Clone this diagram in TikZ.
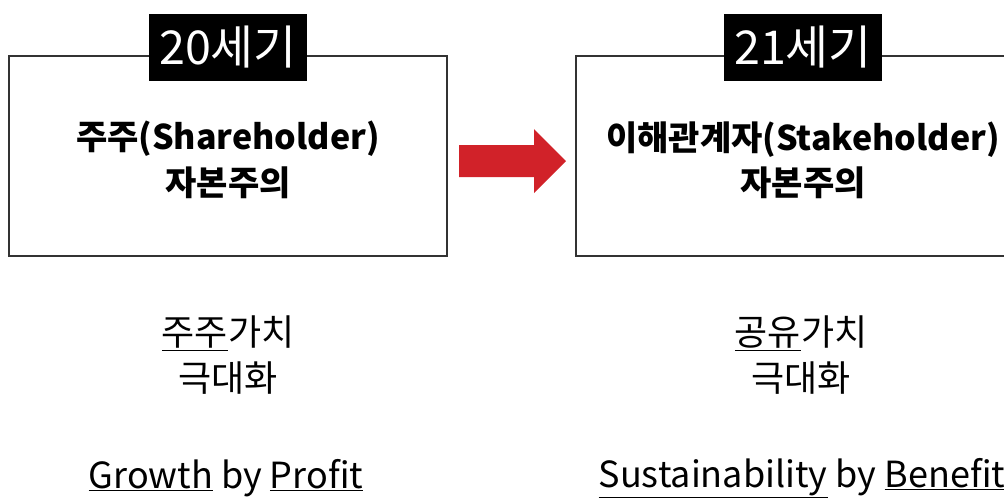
\documentclass[tikz,border=0pt]{standalone}
\usepackage{fontspec}
\setmainfont{Noto Sans CJK KR}
\usetikzlibrary{positioning}
\definecolor{arrowred}{RGB}{209,34,41}
\definecolor{boxline}{RGB}{51,51,51}

\begin{document}
\begin{tikzpicture} [x=0.75pt, y=-0.75pt,
    era/.style = {draw=boxline, line width=0.8pt, minimum width=328.5pt, minimum height=150pt},
    tag/.style = {fill=black, text=white, inner sep=0pt, minimum width=118.5pt, minimum height=50.25pt, font=\fontsize{35}{40}\selectfont},
    title/.style = {align=center, font=\bfseries\fontsize{25.5}{34}\selectfont},
    goal/.style = {align=center, font=\fontsize{27}{34}\selectfont}]
    \useasboundingbox (0,0) rectangle (1004,501);
    \clip (0,0) rectangle (1004,501);

    \node (c20) [era] at (228,156) {};
    \node (c21) [era, minimum width=340.5pt] at (803,156) {};
    \node (t20) [tag] at (228,47.5) {20세기};
    \node (t21) [tag] at (803,47.5) {21세기};

    \node (s20) [title] at (228,160) {주주(Shareholder)\\자본주의};
    \node (s21) [title] at (803,160) {이해관계자(Stakeholder)\\자본주의};

    % red block arrow between the two eras
    \fill [arrowred] (459,145) -- (534,145) -- (534,129) -- (566,161) -- (534,193) -- (534,177) -- (459,177) -- cycle;

    \node (v20) [goal] at (228,355) {\underline{주주}가치\\극대화};
    \node (v21) [goal] at (801,355) {\underline{공유}가치\\극대화};
    \node (g20) [goal] at (226,478) {\underline{Growth} by \underline{Profit}};
    \node (g21) [goal] at (802,478) {\underline{Sustainability} by \underline{Benefit}};

\end{tikzpicture}
\end{document}
